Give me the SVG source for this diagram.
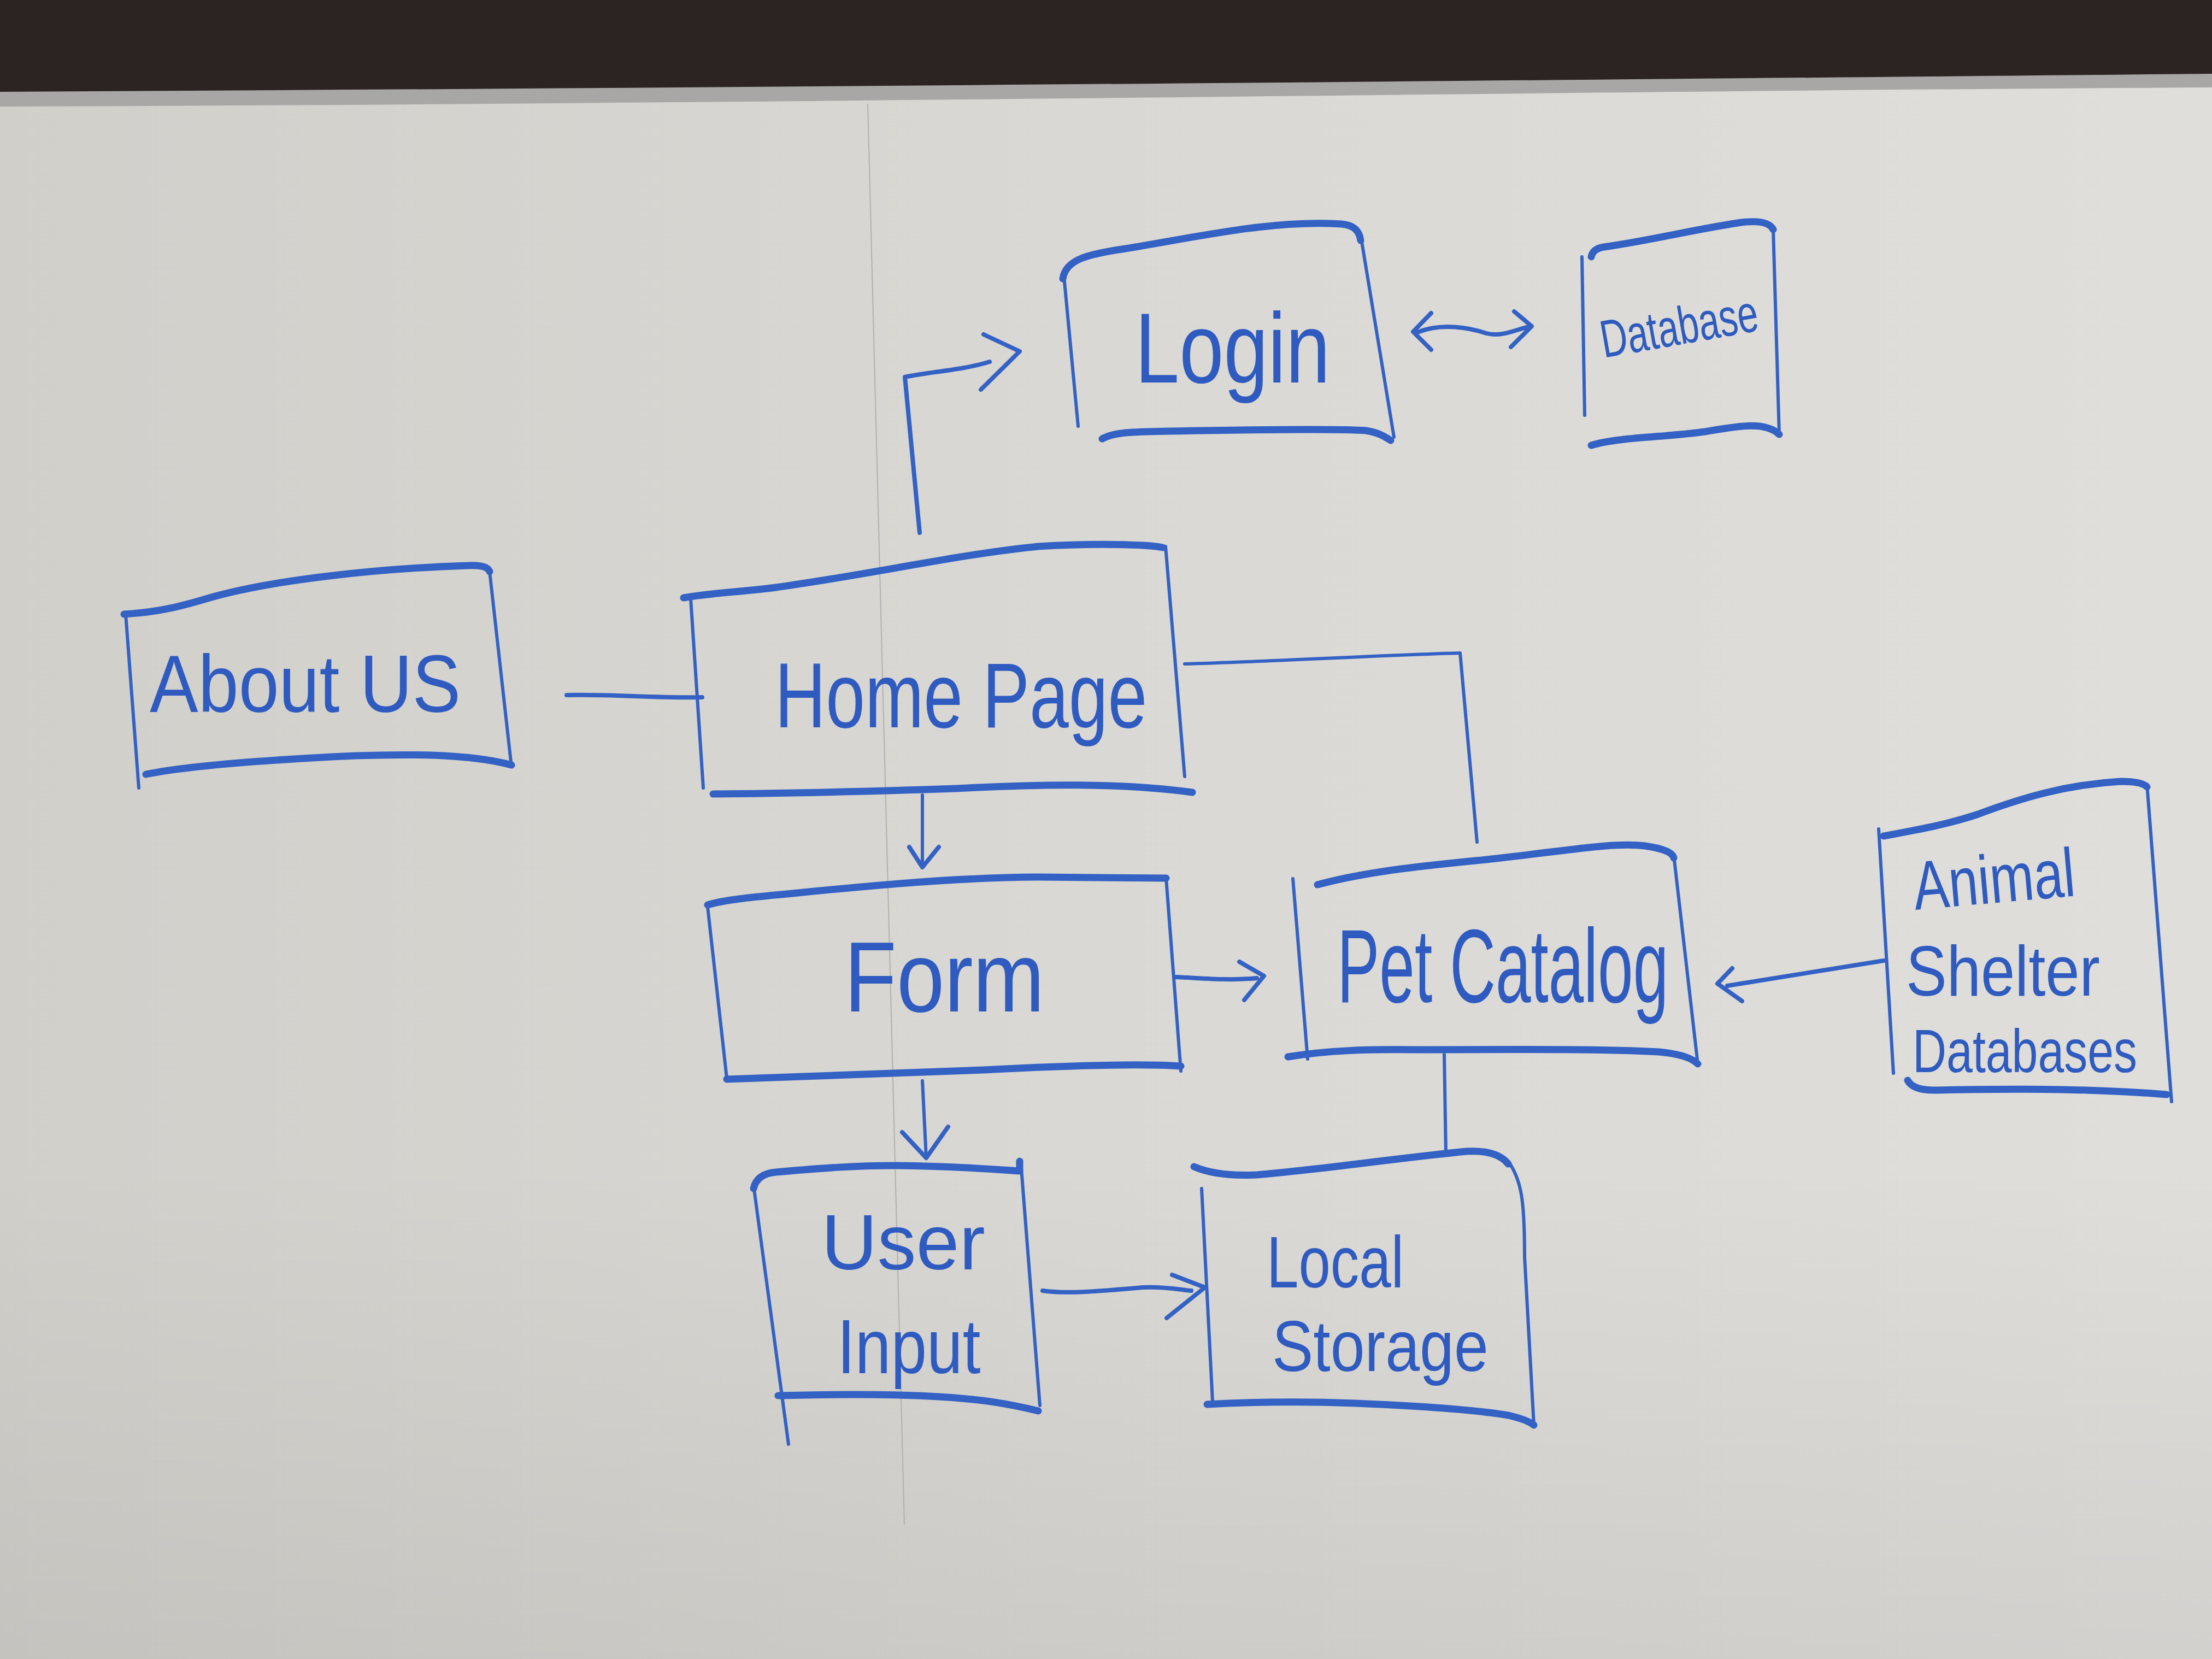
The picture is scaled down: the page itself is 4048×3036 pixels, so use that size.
<svg xmlns="http://www.w3.org/2000/svg" width="4048" height="3036" viewBox="0 0 4048 3036">
<style>
.h{fill:none;stroke:#3461c4;stroke-width:13;stroke-linecap:round;stroke-linejoin:round}
.v{fill:none;stroke:#3461c4;stroke-width:6;stroke-linecap:round;stroke-linejoin:round}
.c{fill:none;stroke:#3461c4;stroke-width:8;stroke-linecap:round;stroke-linejoin:round}
.t{font-family:"Liberation Sans",Arial,sans-serif;fill:#2f5bc0}
</style>
<defs>
<linearGradient id="board" x1="0" y1="0" x2="1" y2="0">
<stop offset="0" stop-color="#d1cfca"/>
<stop offset="0.5" stop-color="#d9d8d4"/>
<stop offset="1" stop-color="#dfdedb"/>
</linearGradient>
<linearGradient id="shade" x1="0" y1="0" x2="0" y2="1">
<stop offset="0" stop-color="#000" stop-opacity="0"/>
<stop offset="0.7" stop-color="#000" stop-opacity="0"/>
<stop offset="1" stop-color="#000" stop-opacity="0.06"/>
</linearGradient>
</defs>
<rect x="0" y="0" width="4048" height="3036" fill="url(#board)"/>
<rect x="0" y="0" width="4048" height="3036" fill="url(#shade)"/>
<path d="M0,0 H4048 V160 C3000,165 1500,190 0,195 Z" fill="#a8a7a5"/>
<path d="M0,0 H4048 V135 C3000,145 1500,160 0,168 Z" fill="#2b2423"/>
<path d="M1588,190 L1655,2790" stroke="#b3b1ad" stroke-width="2" fill="none"/>

<g id="connectors">
<path class="c" d="M1683,975 L1656,690 C1700,680 1760,678 1811,662"/>
<path class="c" d="M1800,612 L1866,643 L1795,713"/>
<path class="c" d="M2594,608 C2640,590 2690,600 2720,610 C2750,618 2780,600 2800,598"/>
<path class="c" d="M2619,573 L2586,607 L2619,640"/>
<path class="c" d="M2771,570 L2803,597 L2765,635"/>
<path class="c" d="M1037,1272 C1120,1270 1200,1278 1285,1276"/>
<path class="v" d="M2168,1215 C2300,1212 2500,1200 2672,1195 L2703,1541"/>
<path class="v" d="M1688,1455 L1688,1587"/>
<path class="c" d="M1664,1550 L1688,1587 L1718,1550"/>
<path class="c" d="M2152,1788 C2200,1790 2250,1795 2300,1790"/>
<path class="c" d="M2268,1760 L2313,1786 L2277,1830"/>
<path class="v" d="M2643,1930 L2646,2112"/>
<path class="c" d="M3447,1758 L3161,1804"/>
<path class="c" d="M3170,1772 L3143,1800 L3188,1832"/>
<path class="v" d="M1688,1978 L1695,2119"/>
<path class="c" d="M1651,2072 L1695,2119 L1735,2062"/>
<path class="c" d="M1908,2362 C1950,2368 2000,2364 2091,2356 C2130,2354 2160,2360 2180,2362"/>
<path class="c" d="M2145,2333 L2205,2356 L2135,2412"/>
</g>

<g id="login">
<path class="h" d="M1945,510 C1950,475 1990,465 2060,455 C2200,432 2330,402 2455,410 C2480,412 2488,425 2490,440"/>
<path class="v" d="M2490,430 L2551,800"/>
<path class="v" d="M1947,505 L1973,780"/>
<path class="h" d="M2017,803 C2040,790 2080,790 2140,789 C2300,786 2450,784 2500,788 C2525,792 2535,800 2545,806"/>
<text class="t" font-size="146" transform="translate(2077,700) scale(1,1.24)">Login</text>
</g>

<g id="database">
<path class="h" d="M2912,470 Q2915,455 2935,452 C3020,440 3100,420 3180,408 Q3235,400 3245,420"/>
<path class="v" d="M3245,420 L3256,795"/>
<path class="v" d="M2895,470 L2900,760"/>
<path class="h" d="M2912,815 C2960,800 3050,800 3120,790 C3180,780 3230,770 3256,795"/>
<text class="t" font-size="68" transform="translate(2935,655) rotate(-10) scale(1,1.43)">Database</text>
</g>

<g id="about-us">
<path class="h" d="M227,1124 C290,1120 330,1110 380,1095 C500,1060 700,1040 856,1035 Q892,1033 896,1046"/>
<path class="v" d="M896,1046 L936,1403"/>
<path class="v" d="M230,1124 L254,1442"/>
<path class="h" d="M267,1417 C350,1400 500,1390 650,1383 C800,1378 880,1385 936,1400"/>
<text class="t" font-size="133" transform="translate(274,1303) scale(1,1.12)">About US</text>
</g>

<g id="home-page">
<path class="h" d="M1251,1094 C1300,1085 1360,1083 1420,1075 C1600,1050 1750,1015 1900,1000 C2000,994 2100,996 2128,1002"/>
<path class="v" d="M2133,1000 L2168,1421"/>
<path class="v" d="M1264,1096 L1287,1442"/>
<path class="h" d="M1305,1453 C1450,1452 1600,1448 1750,1443 C1900,1435 2050,1432 2182,1450"/>
<text class="t" font-size="129" transform="translate(1418,1331) scale(1,1.31)">Home Page</text>
</g>

<g id="form">
<path class="h" d="M1295,1656 C1330,1645 1400,1640 1450,1635 C1600,1620 1750,1606 1900,1605 L2134,1607"/>
<path class="v" d="M2134,1607 L2161,1960"/>
<path class="v" d="M1295,1660 L1330,1973"/>
<path class="h" d="M1330,1975 C1500,1968 1650,1962 1800,1958 C1950,1950 2080,1946 2161,1951"/>
<text class="t" font-size="157" transform="translate(1545,1851) scale(1,1.16)">Form</text>
</g>

<g id="pet-catalog">
<path class="h" d="M2411,1619 C2500,1595 2600,1585 2700,1575 C2850,1560 2950,1540 3010,1548 Q3060,1555 3063,1570"/>
<path class="v" d="M3063,1565 L3107,1947"/>
<path class="v" d="M2366,1608 L2393,1938"/>
<path class="h" d="M2357,1934 C2430,1922 2500,1920 2600,1921 C2800,1920 2950,1920 3036,1925 Q3090,1930 3107,1947"/>
<text class="t" font-size="116" transform="translate(2447,1834) scale(1,1.65)">Pet Catalog</text>
</g>

<g id="animal-shelter-databases">
<path class="h" d="M3447,1530 C3500,1520 3560,1510 3620,1490 C3700,1460 3780,1436 3880,1430 Q3920,1430 3929,1440"/>
<path class="v" d="M3929,1435 L3974,2016"/>
<path class="v" d="M3438,1517 L3465,1964"/>
<path class="h" d="M3491,1977 Q3500,1995 3540,1995 C3650,1993 3800,1990 3965,2003"/>
<text class="t" font-size="97" transform="translate(3505,1665) rotate(-5) scale(1,1.3)">Animal</text>
<text class="t" font-size="112" transform="translate(3488,1822) scale(1,1.16)">Shelter</text>
<text class="t" font-size="86" transform="translate(3500,1962) scale(1,1.3)">Databases</text>
</g>

<g id="user-input">
<path class="h" d="M1379,2175 Q1385,2148 1420,2145 C1500,2138 1560,2133 1640,2133 C1750,2134 1820,2140 1866,2143 L1866,2125"/>
<path class="v" d="M1868,2125 L1903,2572"/>
<path class="v" d="M1379,2169 L1443,2643"/>
<path class="h" d="M1424,2554 C1500,2552 1600,2550 1700,2555 C1800,2560 1850,2570 1900,2582"/>
<text class="t" font-size="142" transform="translate(1503,2323)">User</text>
<text class="t" font-size="118" transform="translate(1532,2513) scale(1,1.2)">Input</text>
</g>

<g id="local-storage">
<path class="h" d="M2185,2135 C2220,2150 2260,2152 2300,2150 C2420,2140 2550,2120 2684,2107 Q2740,2104 2760,2130"/>
<path class="v" d="M2760,2125 C2785,2160 2790,2200 2790,2300 L2807,2608"/>
<path class="v" d="M2199,2175 L2219,2564"/>
<path class="h" d="M2209,2570 C2300,2565 2380,2564 2480,2568 C2600,2573 2700,2580 2760,2590 Q2795,2598 2807,2608"/>
<text class="t" font-size="105" transform="translate(2318,2356) scale(1,1.27)">Local</text>
<text class="t" font-size="113" transform="translate(2328,2509) scale(1,1.17)">Storage</text>
</g>
</svg>
